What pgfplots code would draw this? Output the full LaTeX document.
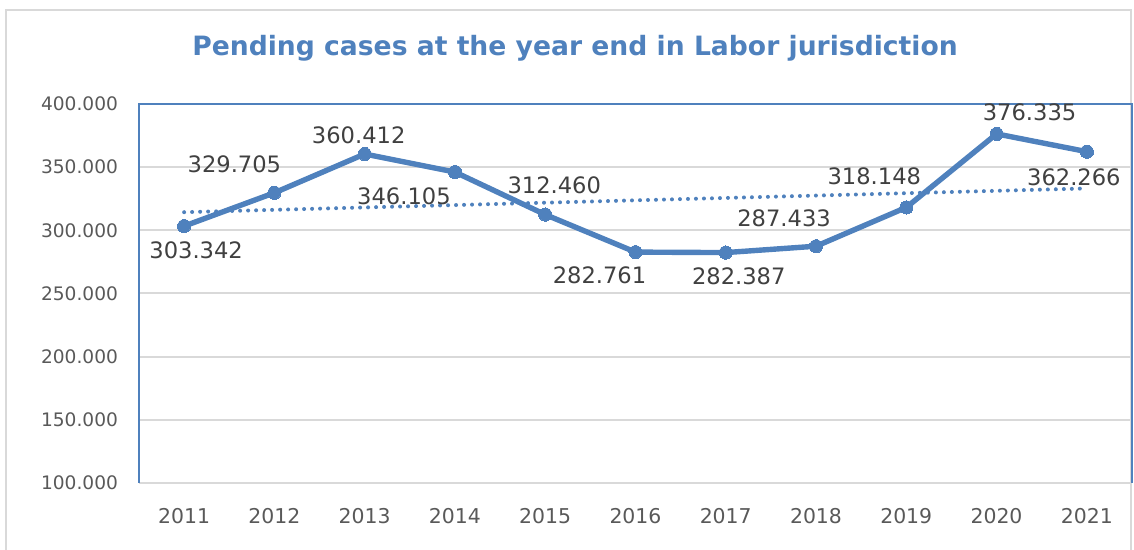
\documentclass[border=0pt]{standalone}
\usepackage{pgfplots}
\pgfplotsset{compat=1.18}
\usepackage{pgfplotstable}
\usepackage{fontspec}
\setmainfont{DejaVu Sans}

\definecolor{clrLine}{RGB}{79,129,189}
\definecolor{clrTick}{RGB}{89,89,89}
\definecolor{clrLabel}{RGB}{64,64,64}
\definecolor{clrGrid}{RGB}{217,217,217}

% year, pending cases, label offset (pt)
\pgfplotstableread{
year cases dx dy
2011 303342 6 -12
2012 329705 -20 14.5
2013 360412 -3 9.5
2014 346105 -25.5 -12
2015 312460 4.5 14.5
2016 282761 -18 -11.5
2017 282387 6.5 -12
2018 287433 -16 14
2019 318148 -16 15.5
2020 376335 16.5 11
2021 362266 -6.5 -13
}\pending

\begin{document}
\begin{tikzpicture}
    \useasboundingbox (0,0) rectangle (567pt,275pt);
    \draw[clrGrid, line width=0.8pt] (3pt,-5pt) rectangle (565.5pt,270pt);
    \node[text=clrLine, font=\bfseries\fontsize{13.3}{16}\selectfont] at (287.5pt,251pt)
        {Pending cases at the year end in Labor jurisdiction};
    \begin{axis}[
        at={(69.5pt,33.5pt)}, anchor=south west,
        scale only axis,
        width=496.5pt, height=189.5pt,
        xmin=2010.5, xmax=2021.5,
        ymin=100000, ymax=400000,
        xtick={2011,2012,...,2021},
        ytick={100000,150000,...,400000},
        scaled y ticks=false,
        axis line style={draw=none},
        major tick length=0pt,
        ymajorgrids,
        grid style={draw=clrGrid, line width=1pt},
        /pgf/number format/assume math mode=true,
        /pgf/number format/.cd, fixed, precision=0, 1000 sep={.},
        /pgfplots/.cd,
        x tick label style={/pgf/number format/1000 sep={}, text=clrTick,
            font=\fontsize{10.2}{12}\selectfont, yshift=-9pt},
        y tick label style={text=clrTick, font=\fontsize{9.3}{11}\selectfont, xshift=-7pt},
        clip=false,
    ]
    % linear trend (least squares through the 11 points)
    \addplot[clrLine, line width=2pt, line cap=round,
        dash pattern=on 0pt off 4pt] coordinates {(2011,314353) (2021,333165)};
    \addplot[clrLine, line width=2.7pt, mark=*, mark size=3.3pt,
        mark options={fill=clrLine, draw=clrLine, line width=0pt},
        nodes near coords,
        point meta=y,
        visualization depends on={\thisrow{dx} \as \dx},
        visualization depends on={\thisrow{dy} \as \dy},
        every node near coord/.append style={anchor=center, xshift=\dx pt, yshift=\dy pt,
            text=clrLabel, font=\fontsize{11.3}{13}\selectfont},
    ] table[x=year, y=cases] {\pending};
    \draw[clrLine, line width=1pt] (rel axis cs:0,0) -- (rel axis cs:0,1)
        -- (rel axis cs:1,1) -- (rel axis cs:1,0);
    \end{axis}
\end{tikzpicture}
\end{document}
